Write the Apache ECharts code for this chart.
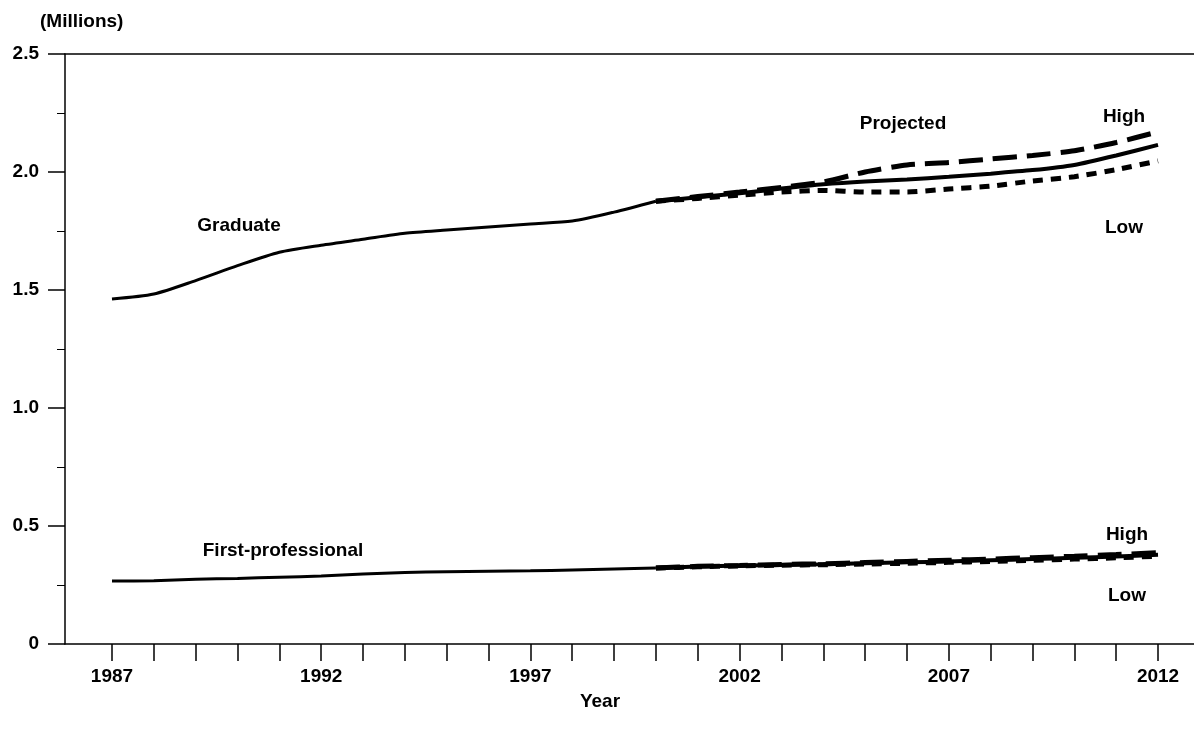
<!DOCTYPE html>
<html>
<head>
<meta charset="utf-8">
<script src="https://cdn.jsdelivr.net/npm/echarts@6/dist/echarts.min.js"></script>
<style>
html,body{margin:0;padding:0;background:#fff;}
#chart{width:1194px;height:735px;}
</style>
</head>
<body>
<div id="chart"></div>
<script>
// ---- Data (millions) ----
const histYears = [1987,1988,1989,1990,1991,1992,1993,1994,1995,1996,1997,1998,1999,2000];
const projYears = [2000,2001,2002,2003,2004,2005,2006,2007,2008,2009,2010,2011,2012];

const gradHist = [1.462,1.483,1.540,1.603,1.660,1.690,1.715,1.740,1.754,1.767,1.780,1.792,1.830,1.876];
const gradMid  = [1.876,1.893,1.910,1.930,1.948,1.960,1.968,1.980,1.993,2.008,2.030,2.070,2.115];
const gradHigh = [1.876,1.896,1.915,1.935,1.958,2.000,2.030,2.040,2.055,2.070,2.090,2.125,2.170];
const gradLow  = [1.876,1.888,1.902,1.915,1.922,1.915,1.915,1.928,1.940,1.962,1.980,2.010,2.047];

const fpHist = [0.267,0.268,0.274,0.278,0.283,0.288,0.297,0.303,0.306,0.308,0.310,0.314,0.318,0.322];
const fpMid  = [0.322,0.328,0.332,0.335,0.338,0.342,0.346,0.350,0.355,0.360,0.365,0.371,0.378];
const fpHigh = [0.322,0.329,0.333,0.337,0.340,0.345,0.350,0.355,0.360,0.366,0.372,0.379,0.387];
const fpLow  = [0.322,0.327,0.331,0.334,0.336,0.339,0.342,0.346,0.350,0.355,0.360,0.365,0.372];

const tickYears  = [1987,1988,1989,1990,1991,1992,1993,1994,1995,1996,1997,1998,1999,2000,2001,2002,2003,2004,2005,2006,2007,2008,2009,2010,2011,2012];
const labelYears = [1987,1992,1997,2002,2007,2012];

// ---- Build ----
const pair = (xs, ys) => xs.map((x, i) => [x, ys[i]]);
const FONT = "'Liberation Sans', Arial, sans-serif";
const FS = 19;
const txt = (t, x, y) => ({
  type: 'text', x: x, y: y,
  style: { text: t, font: 'bold ' + FS + 'px ' + FONT, fill: '#000', align: 'center', verticalAlign: 'middle' }
});

function line(data, width, type, smooth) {
  return {
    type: 'line', data: data, symbol: 'none', smooth: smooth, silent: true,
    lineStyle: { color: '#000', width: width, type: type, cap: 'butt' }
  };
}

const chart = echarts.init(document.getElementById('chart'), null, { renderer: 'canvas' });
chart.setOption({
  animation: false,
  backgroundColor: '#fff',
  grid: { left: 65, right: 0, top: 54, bottom: 91, containLabel: false },
  xAxis: [{
    type: 'value', min: 1985.877, max: 2012.86,
    axisLine: { show: true, lineStyle: { color: '#000', width: 1.5 } },
    axisTick: { show: true, length: 17, customValues: tickYears, lineStyle: { color: '#000', width: 1.5 } },
    axisLabel: { customValues: labelYears, margin: 23, color: '#000', fontFamily: FONT, fontSize: FS, fontWeight: 'bold',
      formatter: v => String(v) },
    splitLine: { show: false }
  }, {
    type: 'value', position: 'top', min: 1985.877, max: 2012.86,
    axisLine: { show: true, onZero: false, lineStyle: { color: '#000', width: 1.5 } },
    axisTick: { show: false }, axisLabel: { show: false }, splitLine: { show: false }
  }],
  yAxis: {
    type: 'value', min: 0, max: 2.5, interval: 0.5,
    axisLine: { show: true, lineStyle: { color: '#000', width: 1.5 } },
    axisTick: { show: true, length: 17, lineStyle: { color: '#000', width: 1.5 } },
    minorTick: { show: true, splitNumber: 2, length: 8, lineStyle: { color: '#000', width: 1 } },
    axisLabel: {
      margin: 26, color: '#000', fontFamily: FONT, fontSize: FS, fontWeight: 'bold',
      formatter: v => v === 0 ? '0' : v.toFixed(1)
    },
    splitLine: { show: false }
  },
  series: [
    line(pair(histYears, gradHist), 3, 'solid', 0.25),
    line(pair(projYears, gradMid), 4, 'solid', 0.2),
    line(pair(projYears, gradHigh), 5, [24, 10], 0.2),
    line(pair(projYears, gradLow), 5, [10, 8], 0.2),
    line(pair(histYears, fpHist), 3, 'solid', 0.2),
    line(pair(projYears, fpMid), 4, 'solid', 0.2),
    line(pair(projYears, fpHigh), 5, [24, 10], 0.2),
    line(pair(projYears, fpLow), 5, [10, 8], 0.2)
  ],
  graphic: [
    { type: 'text', x: 40, y: 22, style: { text: '(Millions)', font: 'bold ' + FS + 'px ' + FONT, fill: '#000', align: 'left', verticalAlign: 'middle' } },
    txt('Graduate', 239, 226),
    txt('First-professional', 283, 551),
    txt('Projected', 903, 124),
    txt('High', 1124, 117),
    txt('Low', 1124, 228),
    txt('High', 1127, 535),
    txt('Low', 1127, 596),
    txt('Year', 600, 702)
  ]
});
</script>
</body>
</html>
